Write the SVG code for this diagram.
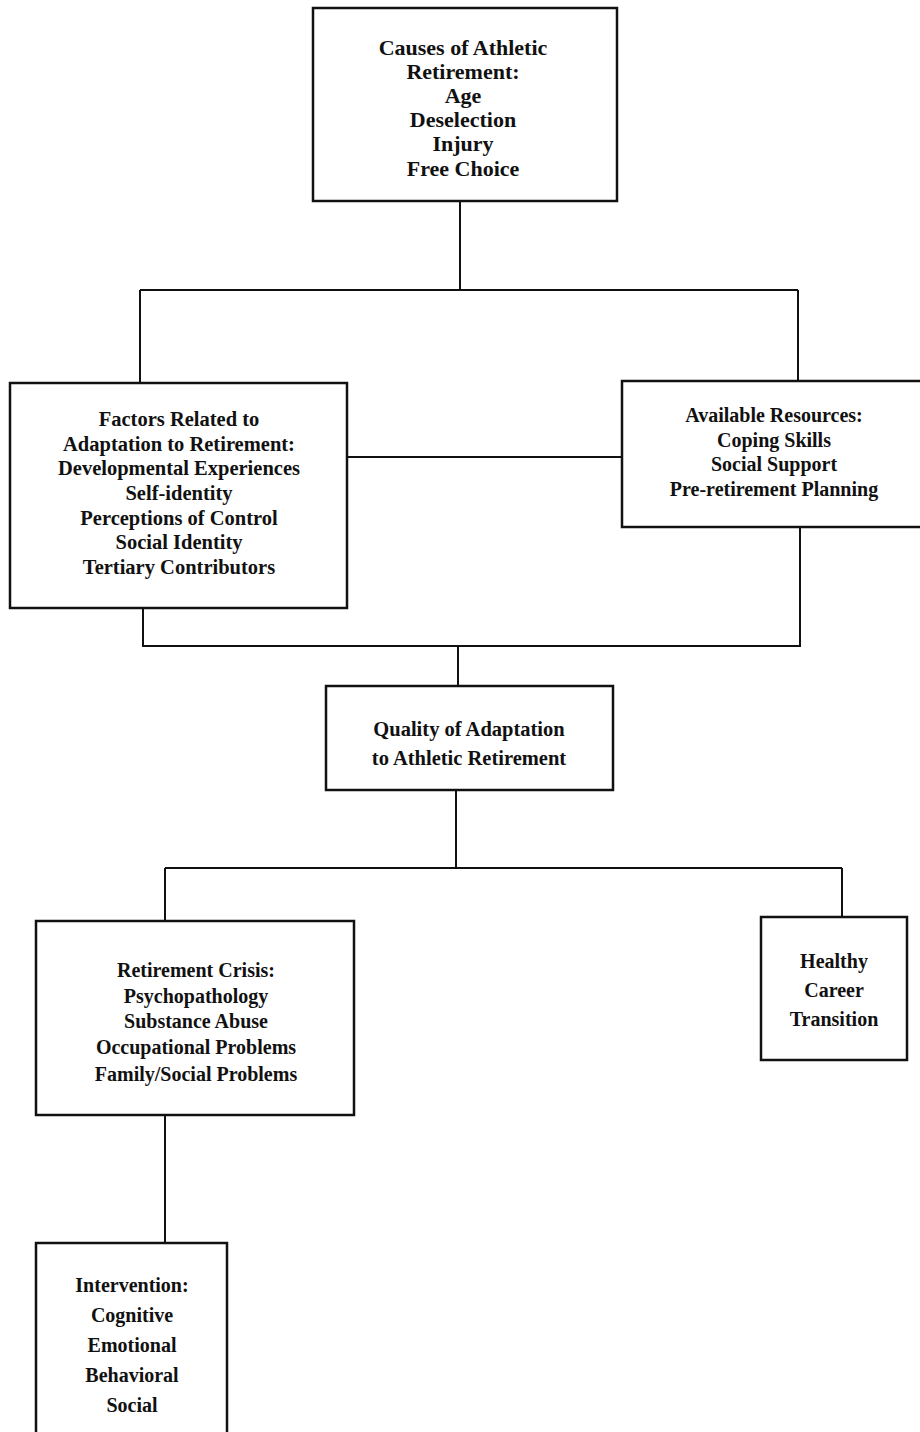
<svg xmlns="http://www.w3.org/2000/svg" width="920" height="1432" viewBox="0 0 920 1432">
<style>
.box{fill:#fff;stroke:#111;stroke-width:2.5}
.ln{fill:none;stroke:#111;stroke-width:2}
text{font-family:"Liberation Serif","Times New Roman",serif;font-weight:bold;fill:#111;text-anchor:middle}
.f21{font-size:22px}
.f205{font-size:20.5px}
.f20{font-size:20px}
</style>
<rect width="920" height="1432" fill="#fff"/>
<g id="connectors">
<path class="ln" d="M460 201 V290 M140 290 H798 M140 290 V383 M798 290 V381"/>
<path class="ln" d="M347 457 H622"/>
<path class="ln" d="M143 608 V646 H800 V527 M458 646 V686"/>
<path class="ln" d="M456 790 V868 M165 868 H842 M165 868 V921 M842 868 V917"/>
<path class="ln" d="M165 1115 V1243"/>
</g>
<g id="causes">
<rect class="box" x="313" y="8" width="304" height="193"/>
<text class="f21" x="463" y="55">Causes of Athletic</text>
<text class="f21" x="463" y="79">Retirement:</text>
<text class="f21" x="463" y="103">Age</text>
<text class="f21" x="463" y="127">Deselection</text>
<text class="f21" x="463" y="151">Injury</text>
<text class="f21" x="463" y="176">Free Choice</text>
</g>
<g id="factors">
<rect class="box" x="10" y="383" width="337" height="225"/>
<text class="f205" x="179" y="426">Factors Related to</text>
<text class="f205" x="179" y="450.5">Adaptation to Retirement:</text>
<text class="f205" x="179" y="475">Developmental Experiences</text>
<text class="f205" x="179" y="500">Self-identity</text>
<text class="f205" x="179" y="524.5">Perceptions of Control</text>
<text class="f205" x="179" y="549">Social Identity</text>
<text class="f205" x="179" y="573.5">Tertiary Contributors</text>
</g>
<g id="resources">
<rect class="box" x="622" y="381" width="302" height="146"/>
<text class="f20" x="774" y="422">Available Resources:</text>
<text class="f20" x="774" y="446.5">Coping Skills</text>
<text class="f20" x="774" y="471">Social Support</text>
<text class="f20" x="774" y="496">Pre-retirement Planning</text>
</g>
<g id="quality">
<rect class="box" x="326" y="686" width="287" height="104"/>
<text class="f205" x="469" y="736">Quality of Adaptation</text>
<text class="f205" x="469" y="765">to Athletic Retirement</text>
</g>
<g id="crisis">
<rect class="box" x="36" y="921" width="318" height="194"/>
<text class="f20" x="196" y="977">Retirement Crisis:</text>
<text class="f20" x="196" y="1003">Psychopathology</text>
<text class="f20" x="196" y="1028">Substance Abuse</text>
<text class="f20" x="196" y="1054">Occupational Problems</text>
<text class="f20" x="196" y="1081">Family/Social Problems</text>
</g>
<g id="healthy">
<rect class="box" x="761" y="917" width="146" height="143"/>
<text class="f20" x="834" y="968">Healthy</text>
<text class="f20" x="834" y="997">Career</text>
<text class="f20" x="834" y="1026">Transition</text>
</g>
<g id="intervention">
<rect class="box" x="36" y="1243" width="191" height="200"/>
<text class="f20" x="132" y="1292">Intervention:</text>
<text class="f20" x="132" y="1322">Cognitive</text>
<text class="f20" x="132" y="1352">Emotional</text>
<text class="f20" x="132" y="1382">Behavioral</text>
<text class="f20" x="132" y="1412">Social</text>
</g>
</svg>
